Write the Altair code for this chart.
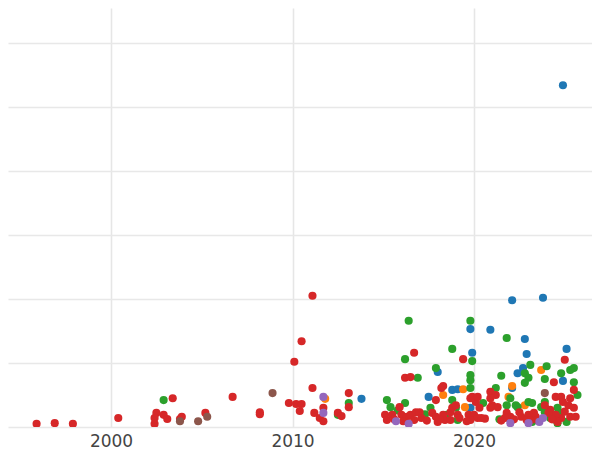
import altair as alt
import pandas as pd

# Category A (blue)
years_a = [2024.9, 2013.8, 2018.0, 2017.5, 2018.8, 2019.1, 2019.8, 2019.9, 2019.8, 2020.9,
           2022.1, 2023.8, 2022.8, 2022.9, 2022.7, 2022.4, 2025.1, 2024.9, 2022.1]
values_a = [53.4, 4.4, 8.6, 4.7, 5.8, 5.9, 15.3, 11.6, 3.0, 15.2,
            19.8, 20.2, 13.75, 11.4, 9.2, 8.4, 12.2, 7.2, 6.1]

# Category B (orange)
years_b = [2011.8, 2018.3, 2019.4, 2019.5, 2022.1, 2021.9, 2022.8, 2023.7]
values_b = [4.4, 5.0, 5.9, 3.1, 6.4, 4.7, 3.4, 8.9]

# Category C (green)
years_c = [2002.9, 2013.1, 2012.5, 2015.2, 2015.4, 2016.2, 2016.4, 2016.2, 2016.9, 2017.9,
           2018.8, 2017.6, 2018.5, 2018.8, 2019.0, 2019.1, 2019.8, 2019.8, 2019.8, 2019.9,
           2019.8, 2021.8, 2021.5, 2021.2, 2020.5, 2022.0, 2021.8, 2022.3, 2022.4, 2023.0,
           2023.2, 2023.1, 2022.8, 2023.0, 2022.8, 2024.0, 2023.9, 2024.8, 2025.3, 2025.5,
           2025.5, 2023.7, 2023.9, 2024.6, 2024.8, 2024.2, 2024.6, 2025.1, 2023.2, 2025.7,
           2023.9, 2015.8, 2017.3, 2021.4]
values_c = [4.2, 3.75, 1.9, 4.2, 3.1, 3.75, 16.6, 10.6, 7.7, 9.2,
            12.2, 3.0, 1.9, 4.2, 3.0, 1.1, 8.1, 7.3, 6.1, 10.3,
            16.6, 13.9, 8.0, 6.1, 3.75, 4.5, 3.4, 3.4, 3.1, 3.9,
            3.75, 9.7, 8.4, 7.7, 6.9, 9.5, 7.5, 8.4, 8.9, 9.2,
            7.0, 3.1, 2.3, 3.0, 2.2, 1.4, 0.6, 0.8, 0.8, 5.0,
            3.9, 2.6, 2.0, 1.2]

# Category D (red)
years_d = [1995.9, 1996.9, 1997.9, 2000.4, 2002.5, 2002.4, 2002.4, 2002.9, 2003.4, 2003.1,
           2003.8, 2003.9, 2005.2, 2006.7, 2008.2, 2008.2, 2009.8, 2010.2, 2010.5, 2010.4,
           2010.1, 2010.5, 2011.1, 2011.1, 2011.2, 2011.5, 2011.7, 2011.7, 2012.5, 2012.7,
           2013.1, 2013.1, 2015.1, 2015.2, 2015.5, 2015.9, 2016.0, 2016.3, 2016.5, 2016.8,
           2017.0, 2016.7, 2017.1, 2016.2, 2016.5, 2016.7, 2017.9, 2017.7, 2017.9, 2018.0,
           2018.3, 2018.4, 2018.7, 2018.8, 2019.0, 2019.1, 2019.2, 2018.7, 2018.2, 2018.3,
           2019.4, 2019.9, 2020.1, 2019.8, 2019.7, 2020.0, 2020.2, 2019.8, 2020.9, 2021.2,
           2020.2, 2020.3, 2020.4, 2020.9, 2021.0, 2021.3, 2020.9, 2021.8, 2022.0, 2021.7,
           2022.5, 2022.6, 2023.0, 2023.3, 2023.4, 2022.9, 2024.4, 2025.0, 2025.5, 2024.5,
           2024.8, 2024.9, 2025.3, 2025.2, 2025.5, 2025.3, 2024.8, 2024.5, 2024.2, 2024.1,
           2024.6, 2025.6, 2023.9, 2023.5, 2015.6, 2016.1, 2017.4, 2018.1, 2019.6, 2020.6,
           2021.5, 2022.2, 2023.1, 2024.3, 2025.0]
values_d = [0.5, 0.6, 0.5, 1.4, 2.2, 1.4, 0.5, 1.9, 4.5, 1.25,
            1.25, 1.6, 2.2, 4.7, 2.3, 2.0, 3.75, 3.6, 3.6, 2.5,
            10.2, 13.4, 20.5, 6.1, 2.2, 1.4, 0.9, 3.0, 2.2, 1.7,
            5.3, 3.1, 1.9, 1.1, 1.9, 3.1, 1.9, 1.6, 1.9, 2.3,
            2.3, 1.1, 1.4, 7.7, 7.8, 11.6, 4.2, 2.2, 1.6, 0.8,
            1.9, 1.1, 2.3, 3.0, 3.4, 1.9, 1.4, 1.1, 6.1, 6.4,
            10.6, 4.7, 3.9, 4.5, 1.9, 1.9, 1.4, 1.1, 5.5, 5.0,
            4.7, 3.0, 1.4, 4.5, 3.4, 3.1, 3.0, 2.2, 1.6, 1.4,
            2.3, 1.6, 1.9, 2.2, 1.6, 1.1, 7.0, 10.5, 5.8, 4.7,
            4.7, 3.9, 4.5, 3.4, 3.0, 1.6, 1.4, 1.9, 2.7, 2.2,
            0.8, 1.6, 3.4, 1.1, 1.2, 0.9, 1.0, 1.2, 0.9, 1.3,
            1.0, 1.2, 1.0, 1.2, 2.4]

# Category E (brown)
years_e = [2003.8, 2004.8, 2005.3, 2008.9, 2023.9]
values_e = [0.9, 0.9, 1.6, 5.3, 5.3]

# Category F (purple)
years_f = [2011.7, 2011.7, 2015.7, 2016.4, 2022.0, 2023.0, 2023.6, 2023.8]
values_f = [4.7, 2.2, 0.9, 0.5, 0.6, 0.6, 0.8, 1.4]

categories = ["A", "B", "C", "D", "E", "F"]
colors = ["#1f77b4", "#ff7f0e", "#2ca02c", "#d62728", "#8c564b", "#9467bd"]
x_ticks = [2000, 2010, 2020]
y_ticks = [0, 10, 20, 30, 40, 50, 60]

series = [(years_a, values_a), (years_b, values_b), (years_c, values_c),
          (years_d, values_d), (years_e, values_e), (years_f, values_f)]
rows = []
for order, (cat, (ys, vs)) in enumerate(zip(categories, series)):
    for y, v in zip(ys, vs):
        rows.append({"year": y, "value": v, "cat": cat, "order": order})
df = pd.DataFrame(rows)

chart = alt.Chart(df).mark_circle(size=66, opacity=1, clip=True).encode(
    x=alt.X("year:Q",
            scale=alt.Scale(domain=[1994.325, 2026.5], nice=False, zero=False),
            axis=alt.Axis(values=x_ticks, title=None, format="d", ticks=False, tickSize=0,
                          domain=False, labelPadding=6, labelFontSize=17,
                          labelFont="DejaVu Sans", labelColor="#444444",
                          gridColor="#e6e6e6", gridWidth=1.6, labelFlush=False)),
    y=alt.Y("value:Q",
            scale=alt.Scale(domain=[0, 65.47], nice=False, zero=False),
            axis=alt.Axis(values=y_ticks, title=None, labels=False, ticks=False,
                          domain=False, gridColor="#e8e8e8", gridWidth=1.4)),
    color=alt.Color("cat:N", scale=alt.Scale(domain=categories, range=colors), legend=None),
    order=alt.Order("order:Q"),
).properties(
    width=584, height=419, padding=0, background="white"
).configure_view(stroke=None, strokeWidth=0)

chart.save("out.html", embed_options={"renderer": "svg", "actions": False})
